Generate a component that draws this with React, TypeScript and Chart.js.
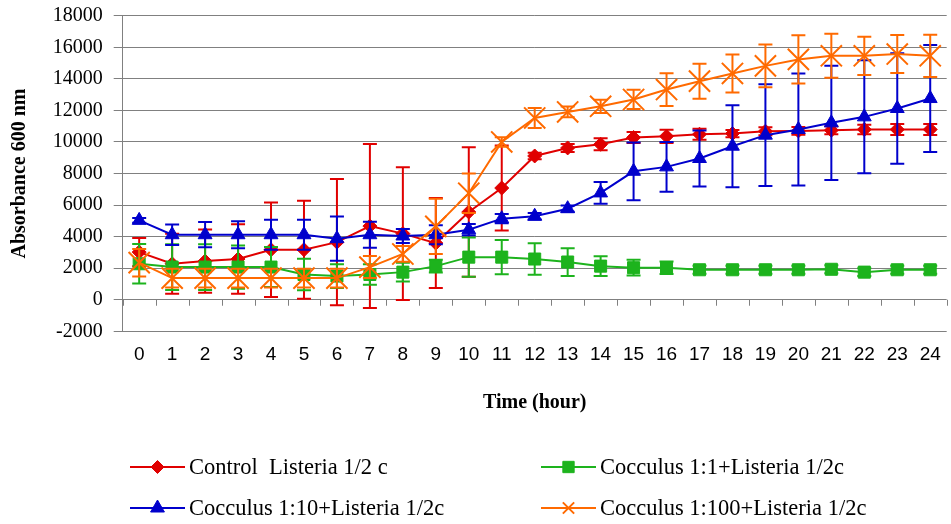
import React, { useEffect, useRef } from 'react';
import { Chart, registerables } from 'chart.js';
import { drawPoint } from 'chart.js/helpers';

Chart.register(...registerables);

const hours = ['0', '1', '2', '3', '4', '5', '6', '7', '8', '9', '10', '11', '12', '13', '14', '15', '16', '17', '18', '19', '20', '21', '22', '23', '24'];

const seriesNames = ['Control  Listeria 1/2 c', 'Cocculus 1:1+Listeria 1/2c', 'Cocculus 1:10+Listeria 1/2c', 'Cocculus 1:100+Listeria 1/2c'];

const controlVals = [3020, 2280, 2450, 2580, 3170, 3170, 3650, 4670, 4190, 3590, 5560, 7080, 9110, 9620, 9850, 10280, 10360, 10490, 10530, 10680, 10700, 10740, 10790, 10790, 10790];
const controlErr = [900, 1900, 2000, 2200, 3000, 3100, 4000, 5200, 4200, 2850, 4100, 2700, 200, 250, 380, 350, 420, 350, 230, 250, 250, 250, 300, 350, 350];

const c1Vals = [2280, 2070, 2070, 2070, 2070, 1600, 1500, 1600, 1750, 2130, 2700, 2700, 2580, 2390, 2130, 2030, 2030, 1900, 1900, 1900, 1900, 1930, 1750, 1900, 1900];
const c1Err = [1250, 1450, 1450, 1370, 1270, 1000, 750, 650, 600, 400, 1250, 1080, 1000, 880, 620, 500, 400, 250, 250, 250, 250, 250, 250, 250, 250];

const c10Vals = [5030, 4120, 4120, 4120, 4120, 4120, 3870, 4120, 4040, 4120, 4440, 5140, 5290, 5770, 6770, 8140, 8420, 8950, 9730, 10430, 10790, 11210, 11590, 12120, 12750];
const c10Err = [150, 650, 800, 850, 950, 950, 1400, 820, 450, 600, 360, 300, 200, 200, 690, 1830, 1580, 1770, 2600, 3220, 3550, 3620, 3580, 3500, 3390];

const c100Vals = [2350, 1370, 1370, 1370, 1370, 1370, 1370, 2070, 2900, 4650, 6750, 10000, 11520, 11900, 12260, 12690, 13320, 13850, 14340, 14820, 15230, 15460, 15460, 15570, 15460];
const c100Err = [870, 600, 600, 600, 600, 600, 600, 700, 500, 1750, 1250, 300, 630, 340, 420, 610, 1040, 1110, 1200, 1350, 1530, 1400, 1210, 1200, 1340];

const yTickValues = [-2000, 0, 2000, 4000, 6000, 8000, 10000, 12000, 14000, 16000, 18000];

const colors = ['#E00000', '#1DB31D', '#0000CC', '#FF6A00'];
const errorSets = [controlErr, c1Err, c10Err, c100Err];
const legendMarkers = [
  { pointStyle: 'rectRot', radius: 6.5, borderWidth: 1 },
  { pointStyle: 'rect', radius: 8, borderWidth: 1 },
  { pointStyle: 'triangle', radius: 8, borderWidth: 1 },
  { pointStyle: 'crossRot', radius: 8, borderWidth: 2 },
];

const errorBarPlugin = {
  id: 'errorBars',
  beforeDatasetDraw(chart: any, args: any) {
    const errs = errorSets[args.index];
    const ds = chart.data.datasets[args.index];
    const vals = ds.data as number[];
    const xs = chart.scales.x;
    const ys = chart.scales.y;
    const ctx = chart.ctx;
    ctx.save();
    ctx.strokeStyle = ds.borderColor;
    ctx.lineWidth = 2;
    ctx.beginPath();
    vals.forEach((v, i) => {
      const px = xs.getPixelForValue(i);
      const top = ys.getPixelForValue(v + errs[i]);
      const bot = ys.getPixelForValue(v - errs[i]);
      ctx.moveTo(px, top);
      ctx.lineTo(px, bot);
      ctx.moveTo(px - 7, top);
      ctx.lineTo(px + 7, top);
      ctx.moveTo(px - 7, bot);
      ctx.lineTo(px + 7, bot);
    });
    ctx.stroke();
    ctx.restore();
  },
};

const zeroTickPlugin = {
  id: 'zeroTicks',
  beforeDatasetsDraw(chart: any) {
    const xs = chart.scales.x;
    const ys = chart.scales.y;
    const ctx = chart.ctx;
    const y0 = ys.getPixelForValue(0);
    const n = hours.length;
    const step = (xs.right - xs.left) / n;
    ctx.save();
    ctx.strokeStyle = '#808080';
    ctx.lineWidth = 1;
    ctx.beginPath();
    for (let i = 0; i <= n; i++) {
      const px = Math.round(xs.left + i * step) + 0.5;
      ctx.moveTo(px, y0);
      ctx.lineTo(px, y0 + 6);
    }
    ctx.stroke();
    ctx.restore();
  },
};

const legendPlugin = {
  id: 'customLegend',
  afterDraw(chart: any) {
    const ctx = chart.ctx;
    const cols = [130, 541];
    const rows = [467, 508];
    ctx.save();
    chart.data.datasets.forEach((ds: any, i: number) => {
      const x0 = cols[i % 2];
      const y = rows[Math.floor(i / 2)];
      ctx.strokeStyle = ds.borderColor;
      ctx.lineWidth = 2;
      ctx.beginPath();
      ctx.moveTo(x0, y);
      ctx.lineTo(x0 + 55, y);
      ctx.stroke();
      ctx.fillStyle = ds.borderColor;
      ctx.strokeStyle = ds.borderColor;
      const m = legendMarkers[i];
      ctx.lineWidth = m.borderWidth;
      drawPoint(ctx, { pointStyle: m.pointStyle as any, radius: m.radius, rotation: 0, borderWidth: m.borderWidth }, x0 + 27.5, y);
      ctx.fillStyle = '#000';
      ctx.font = '22.5px "Liberation Serif"';
      ctx.textBaseline = 'middle';
      ctx.textAlign = 'left';
      ctx.fillText(ds.label, x0 + 59, y + 1);
    });
    ctx.restore();
  },
};

export default function App() {
  const ref = useRef<HTMLCanvasElement>(null);
  useEffect(() => {
    const mk = (idx: number, data: number[], style: string, radius: number, bw: number, order: number) => ({
      label: seriesNames[idx],
      data,
      borderColor: colors[idx],
      backgroundColor: colors[idx],
      borderWidth: 2,
      pointStyle: style,
      pointRadius: radius,
      pointBorderWidth: bw,
      pointBackgroundColor: colors[idx],
      pointBorderColor: colors[idx],
      tension: 0,
      fill: false,
      order,
    });
    const chart = new Chart(ref.current!, {
      type: 'line',
      data: {
        labels: hours,
        datasets: [
          mk(0, controlVals, 'rectRot', 7, 1, 4),
          mk(1, c1Vals, 'rect', 8.5, 1, 3),
          mk(2, c10Vals, 'triangle', 8, 1, 2),
          mk(3, c100Vals, 'crossRot', 15, 2, 1),
        ] as any,
      },
      options: {
        animation: false,
        responsive: true,
        maintainAspectRatio: false,
        layout: { autoPadding: false, padding: { top: 15.7, right: 4.3, bottom: 102.7, left: 0 } },
        plugins: { legend: { display: false }, tooltip: { enabled: false } },
        scales: {
          x: {
            type: 'category',
            offset: true,
            grid: { display: false, drawTicks: false },
            border: { display: false },
            ticks: {
              color: '#000',
              font: { family: 'Liberation Sans', size: 19 },
              padding: 12,
              maxRotation: 0,
              autoSkip: false,
            },
            title: {
              display: true,
              text: 'Time (hour)',
              color: '#000',
              font: { family: 'Liberation Serif', size: 20, weight: 'bold' },
              padding: { top: 0, bottom: 6 },
            },
            afterFit: (s: any) => {
              s.height = 90;
              s.paddingLeft = 0;
              s.paddingRight = 0;
            },
          },
          y: {
            min: -2000,
            max: 18000,
            afterBuildTicks: (s: any) => {
              s.ticks = yTickValues.map((v) => ({ value: v }));
            },
            ticks: {
              color: '#000',
              font: { family: 'Liberation Serif', size: 20 },
              padding: 11,
              callback: (v: any) => String(v),
            },
            grid: { color: '#808080', lineWidth: 1, tickLength: 9, tickColor: '#808080' },
            border: { display: true, color: '#808080', width: 1 },
            title: {
              display: true,
              text: 'Absorbance 600 nm',
              color: '#000',
              font: { family: 'Liberation Serif', size: 20, weight: 'bold' },
              padding: { top: 8, bottom: 0 },
            },
            afterFit: (s: any) => {
              s.width = 122.7;
              s.paddingTop = 0;
              s.paddingBottom = 0;
            },
          },
        },
      } as any,
      plugins: [errorBarPlugin, zeroTickPlugin, legendPlugin],
    });
    return () => chart.destroy();
  }, []);
  return (
    <div style={{ position: 'fixed', left: 0, top: 0, width: 951, height: 524, background: '#fff' }}>
      <canvas ref={ref} />
    </div>
  );
}
